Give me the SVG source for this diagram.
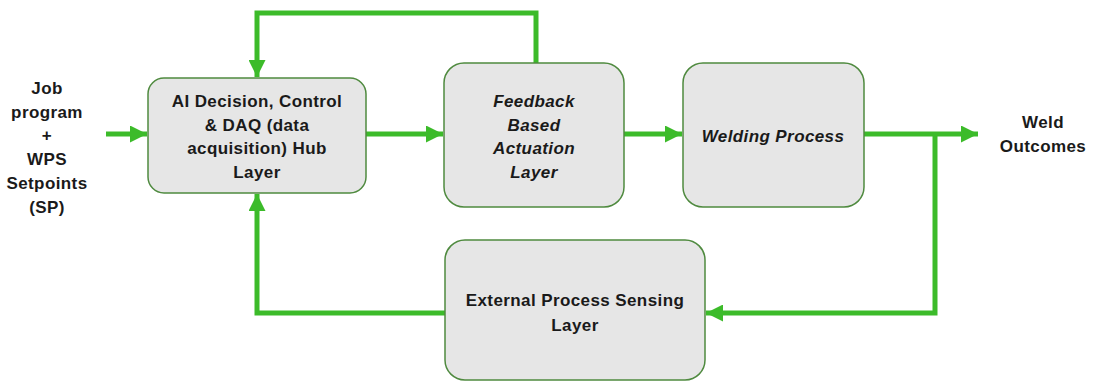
<svg xmlns="http://www.w3.org/2000/svg" width="1094" height="382" viewBox="0 0 1094 382">
<defs>
<style>
.box{fill:#e6e6e6;stroke:#4f8a3f;stroke-width:1.5}
.t{font-family:"Liberation Sans",Arial,sans-serif;font-weight:bold;font-size:17px;letter-spacing:0.4px;fill:#1a1a1a;text-anchor:middle}
.i{font-style:italic}
.c{fill:none;stroke:#3cbb2a;stroke-width:5}
</style>
<marker id="ah" viewBox="0 0 10 10" refX="10" refY="5" markerWidth="3.4" markerHeight="3.4" markerUnits="strokeWidth" orient="auto">
<path d="M0,0 L10,5 L0,10 z" fill="#3cbb2a"/>
</marker>
</defs>
<rect width="1094" height="382" fill="#ffffff"/>
<g id="connectors">
<path class="c" d="M106,134 H147" marker-end="url(#ah)"/>
<path class="c" d="M366,134 H443" marker-end="url(#ah)"/>
<path class="c" d="M624,134 H682" marker-end="url(#ah)"/>
<path class="c" d="M864,134 H978" marker-end="url(#ah)"/>
<path class="c" d="M935,134 V313 H706" marker-end="url(#ah)"/>
<path class="c" d="M445,313 H257 V194" marker-end="url(#ah)"/>
<path class="c" d="M536,63 V13 H257 V77" marker-end="url(#ah)"/>
</g>
<g id="input">
<text class="t" x="47" y="94">Job</text>
<text class="t" x="47" y="118">program</text>
<text class="t" x="47" y="141">+</text>
<text class="t" x="47" y="165">WPS</text>
<text class="t" x="47" y="189">Setpoints</text>
<text class="t" x="47" y="213">(SP)</text>
</g>
<g id="hub">
<rect class="box" x="148" y="78" width="218" height="115" rx="16"/>
<text class="t" x="257" y="107">AI Decision, Control</text>
<text class="t" x="257" y="131">&amp; DAQ (data</text>
<text class="t" x="257" y="154">acquisition) Hub</text>
<text class="t" x="257" y="178">Layer</text>
</g>
<g id="actuation">
<rect class="box" x="444" y="63" width="180" height="144" rx="20"/>
<text class="t i" x="534" y="107">Feedback</text>
<text class="t i" x="534" y="131">Based</text>
<text class="t i" x="534" y="154">Actuation</text>
<text class="t i" x="534" y="178">Layer</text>
</g>
<g id="welding">
<rect class="box" x="683" y="63" width="181" height="144" rx="20"/>
<text class="t i" x="773" y="142">Welding Process</text>
</g>
<g id="outcomes">
<text class="t" x="1043" y="128">Weld</text>
<text class="t" x="1043" y="152">Outcomes</text>
</g>
<g id="sensing">
<rect class="box" x="445" y="240" width="260" height="140" rx="20"/>
<text class="t" x="575" y="306">External Process Sensing</text>
<text class="t" x="575" y="331">Layer</text>
</g>
</svg>
